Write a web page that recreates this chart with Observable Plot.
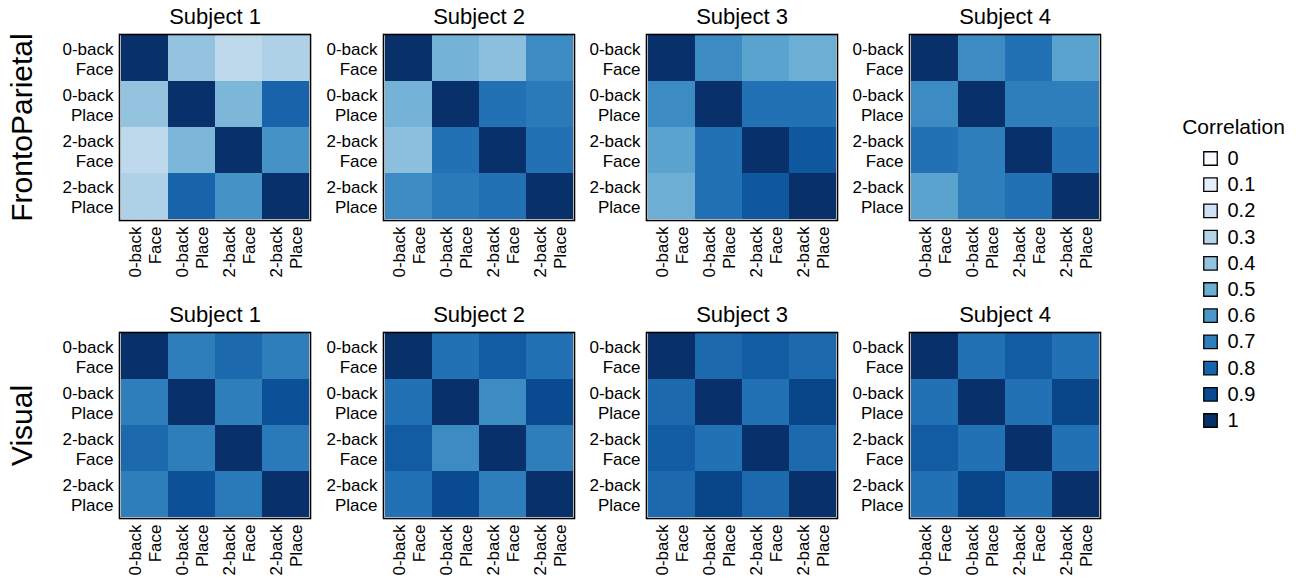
<!DOCTYPE html>
<html><head><meta charset="utf-8">
<script src="https://cdn.jsdelivr.net/npm/d3@7"></script>
<script src="https://cdn.jsdelivr.net/npm/@observablehq/plot@0.6"></script>
<style>
body{margin:0;background:#fff;font-family:"Liberation Sans",Arial,sans-serif;}
#chart{position:relative;width:1296px;height:580px;overflow:hidden;}
#chart > svg{position:absolute;}
</style></head><body><div id="chart"></div>
<script>
// ---- data ----
const networks = ["FrontoParietal", "Visual"];
const subjects = ["Subject 1", "Subject 2", "Subject 3", "Subject 4"];
const conditions = ["0-back\nFace", "0-back\nPlace", "2-back\nFace", "2-back\nPlace"];
const legendTicks = [0, 0.1, 0.2, 0.3, 0.4, 0.5, 0.6, 0.7, 0.8, 0.9, 1];

const fpS1 = [[1,0.40,0.27,0.32],[0.40,1,0.46,0.80],[0.27,0.46,1,0.62],[0.32,0.80,0.62,1]];
const fpS2 = [[1,0.48,0.42,0.65],[0.48,1,0.75,0.72],[0.42,0.75,1,0.75],[0.65,0.72,0.75,1]];
const fpS3 = [[1,0.65,0.55,0.50],[0.65,1,0.75,0.75],[0.55,0.75,1,0.85],[0.50,0.75,0.85,1]];
const fpS4 = [[1,0.65,0.75,0.55],[0.65,1,0.70,0.70],[0.75,0.70,1,0.75],[0.55,0.70,0.75,1]];
const visS1 = [[1,0.70,0.78,0.70],[0.70,1,0.70,0.88],[0.78,0.70,1,0.72],[0.70,0.88,0.72,1]];
const visS2 = [[1,0.75,0.83,0.75],[0.75,1,0.65,0.90],[0.83,0.65,1,0.70],[0.75,0.90,0.70,1]];
const visS3 = [[1,0.78,0.83,0.78],[0.78,1,0.75,0.92],[0.83,0.75,1,0.78],[0.78,0.92,0.78,1]];
const visS4 = [[1,0.75,0.83,0.75],[0.75,1,0.75,0.92],[0.83,0.75,1,0.75],[0.75,0.92,0.75,1]];
const matrices = [[fpS1, fpS2, fpS3, fpS4], [visS1, visS2, visS3, visS4]];

// ---- layout ----
const FONT = '"Liberation Sans", Arial, sans-serif';
const panelLefts = [49, 313, 576, 839];
const panelTops = [0, 298];
const color = {type: "linear", scheme: "blues", domain: [0, 1]};

function panel(matrix, title, rowLabel) {
  const cells = [];
  matrix.forEach((row, i) => row.forEach((v, j) => cells.push({row: conditions[i], col: conditions[j], value: v})));
  const marks = [
    Plot.cell(cells, {x: "col", y: "row", fill: "value"}),
    Plot.frame({stroke: "black", strokeWidth: 1.6}),
    Plot.axisY({tickSize: 0, tickPadding: 6, fontSize: 17, lineHeight: 1.18, label: null}),
    Plot.axisX({tickSize: 0, tickPadding: 6, tickRotate: -90, fontSize: 17, lineHeight: 1.18, label: null}),
    Plot.text([title], {frameAnchor: "top", lineAnchor: "bottom", dy: -11, fontSize: 22})
  ];
  if (rowLabel) marks.push(Plot.text([rowLabel], {frameAnchor: "left", textAnchor: "middle", lineAnchor: "middle", dx: -97, rotate: -90, fontSize: 30}));
  return Plot.plot({
    width: 263, height: 290, marginLeft: 70, marginRight: 2, marginTop: 34, marginBottom: 70,
    x: {domain: conditions, padding: 0, label: null},
    y: {domain: conditions, padding: 0, label: null},
    color,
    style: {background: "transparent", fontFamily: FONT, color: "black", overflow: "visible"},
    marks
  });
}

const chart = document.getElementById("chart");
networks.forEach((net, r) => {
  subjects.forEach((subj, c) => {
    const svg = panel(matrices[r][c], subj, c === 0 ? net : null);
    svg.style.left = panelLefts[c] + "px";
    svg.style.top = panelTops[r] + "px";
    chart.appendChild(svg);
  });
});

// legend
const legend = Plot.plot({
  width: 136, height: 340, margin: 0,
  x: {domain: [0, 1], axis: null},
  y: {domain: [0, 1], range: [58, 320], axis: null},
  color,
  style: {background: "transparent", fontFamily: FONT, color: "black", overflow: "visible"},
  marks: [
    Plot.dot(legendTicks, {y: d => d, frameAnchor: "left", dx: 50, symbol: "square", r: 7.6, fill: d => d, stroke: "black", strokeWidth: 1.3}),
    Plot.text(legendTicks, {y: d => d, frameAnchor: "left", dx: 67, textAnchor: "start", text: d => String(d), fontSize: 20}),
    Plot.text(["Correlation"], {frameAnchor: "top", lineAnchor: "middle", dx: 5, dy: 27, fontSize: 21})
  ]
});
legend.style.left = "1160px";
legend.style.top = "100px";
chart.appendChild(legend);
</script></body></html>
